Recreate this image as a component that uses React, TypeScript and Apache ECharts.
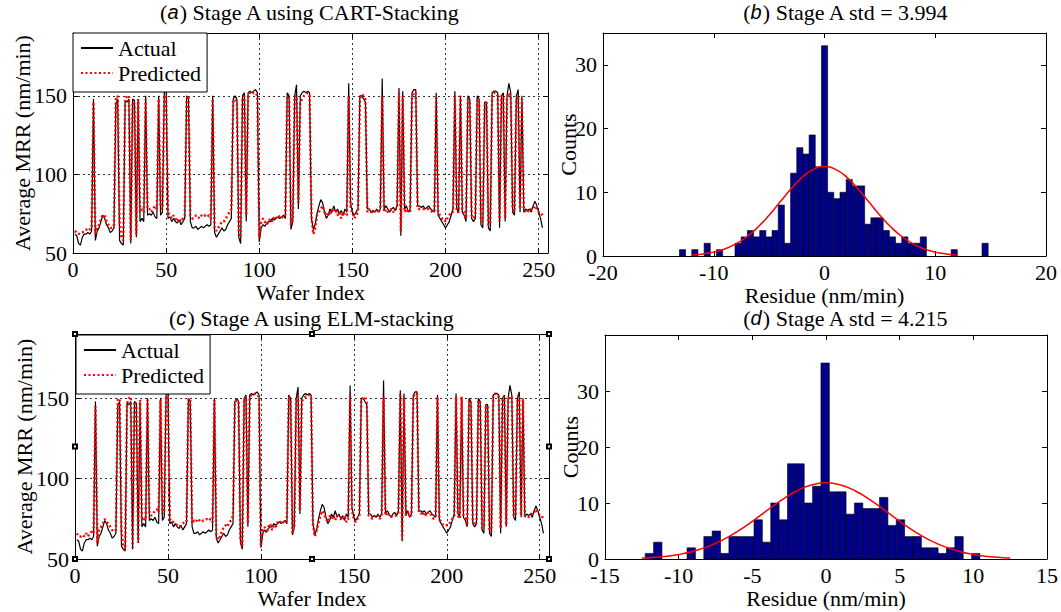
import React, { useEffect, useRef } from "react";
import * as echarts from "echarts";

// ---------- data ----------
const actual = [
  62, 61, 56, 55, 60, 62, 62, 63, 62, 64,
  148, 58, 64, 66, 70, 74, 72, 68, 66, 63,
  64, 66, 145, 148, 58, 56, 55, 147, 146, 148,
  56, 148, 147, 60, 148, 70, 72, 70, 150, 74,
  75, 74, 76, 73, 72, 150, 74, 76, 152, 155,
  72, 73, 70, 72, 70, 69, 71, 68, 70, 72,
  150, 148, 70, 66, 66, 67, 65, 66, 67, 66,
  67, 68, 67, 68, 150, 63, 60, 62, 64, 66,
  64, 65, 68, 70, 72, 148, 150, 148, 60, 56,
  150, 152, 70, 152, 153, 152, 153, 154, 152, 57,
  66, 68, 67, 69, 70, 70, 72, 71, 72, 73,
  72, 73, 74, 72, 152, 150, 65, 70, 150, 157,
  78, 150, 152, 153, 152, 153, 152, 72, 65, 68,
  75, 80, 84, 82, 76, 72, 74, 78, 76, 80,
  76, 78, 75, 77, 74, 78, 76, 158, 82, 76,
  74, 76, 78, 150, 150, 148, 146, 78, 78, 76,
  77, 76, 78, 76, 78, 161, 78, 80, 78, 76,
  78, 79, 77, 80, 155, 61, 153, 78, 80, 76,
  78, 152, 154, 154, 80, 80, 79, 80, 78, 79,
  80, 78, 77, 76, 152, 74, 72, 70, 68, 66,
  68, 70, 74, 78, 153, 78, 76, 150, 76, 74,
  70, 150, 148, 72, 70, 72, 150, 148, 68, 66,
  146, 146, 66, 64, 152, 153, 153, 152, 66, 150,
  152, 70, 150, 158, 152, 76, 74, 150, 154, 76,
  150, 76, 78, 77, 78, 76, 80, 83, 80, 76,
  72, 66,
];

const predictedA = [
  64, 63, 62, 63, 63, 64, 65, 64, 65, 66,
  146, 62, 66, 68, 72, 74, 74, 70, 68, 66,
  66, 68, 148, 150, 70, 60, 58, 148, 150, 150,
  58, 146, 145, 62, 148, 76, 78, 76, 148, 78,
  78, 76, 78, 80, 78, 148, 80, 78, 150, 150,
  76, 74, 72, 74, 72, 70, 72, 70, 72, 74,
  148, 150, 74, 72, 72, 74, 73, 72, 74, 73,
  74, 73, 74, 72, 148, 66, 64, 66, 68, 70,
  70, 72, 74, 76, 78, 146, 148, 146, 64, 60,
  148, 150, 74, 150, 152, 151, 152, 152, 150, 60,
  70, 72, 70, 68, 70, 72, 70, 73, 72, 74,
  73, 72, 74, 74, 150, 148, 68, 72, 150, 150,
  82, 146, 148, 150, 151, 152, 150, 74, 62, 66,
  74, 76, 78, 80, 76, 74, 76, 74, 78, 76,
  78, 74, 76, 72, 76, 74, 74, 150, 78, 76,
  72, 74, 76, 148, 151, 150, 148, 76, 78, 76,
  76, 77, 76, 76, 78, 150, 76, 78, 76, 77,
  78, 76, 78, 78, 152, 64, 150, 76, 78, 76,
  76, 150, 152, 152, 78, 78, 78, 78, 78, 78,
  78, 77, 76, 76, 150, 76, 74, 72, 72, 70,
  72, 74, 76, 76, 150, 76, 76, 150, 78, 76,
  72, 148, 146, 74, 72, 74, 148, 146, 70, 70,
  144, 146, 68, 68, 150, 152, 152, 150, 70, 150,
  150, 72, 148, 152, 150, 78, 76, 148, 150, 78,
  148, 78, 76, 77, 76, 78, 78, 80, 78, 76,
  76, 74,
];

const predictedC = [
  66, 64, 64, 65, 64, 66, 64, 66, 67, 66,
  145, 60, 68, 70, 72, 75, 73, 72, 70, 68,
  67, 68, 149, 150, 68, 58, 56, 147, 150, 151,
  57, 148, 146, 60, 149, 74, 76, 74, 149, 78,
  77, 78, 80, 81, 79, 149, 78, 80, 151, 151,
  75, 73, 73, 72, 71, 70, 71, 72, 73, 73,
  149, 150, 72, 74, 73, 75, 74, 73, 74, 74,
  75, 74, 75, 73, 149, 65, 62, 64, 67, 70,
  71, 70, 73, 74, 77, 147, 149, 147, 62, 58,
  149, 151, 72, 151, 152, 152, 153, 152, 151, 58,
  68, 70, 66, 70, 72, 68, 71, 70, 73, 72,
  74, 73, 72, 75, 151, 149, 66, 71, 151, 151,
  80, 148, 150, 151, 152, 152, 151, 72, 64, 68,
  72, 77, 80, 78, 75, 73, 77, 75, 77, 74,
  77, 76, 75, 74, 77, 73, 75, 151, 80, 75,
  73, 75, 77, 149, 150, 151, 147, 77, 76, 75,
  77, 76, 77, 75, 77, 151, 77, 79, 77, 76,
  77, 77, 77, 79, 153, 62, 151, 77, 79, 77,
  77, 151, 153, 153, 79, 79, 77, 79, 77, 79,
  79, 76, 75, 77, 151, 75, 73, 71, 71, 71,
  71, 73, 75, 77, 151, 77, 75, 151, 77, 75,
  71, 149, 147, 73, 71, 73, 149, 147, 69, 71,
  145, 145, 67, 67, 151, 153, 151, 151, 69, 151,
  151, 71, 149, 151, 151, 77, 77, 149, 151, 77,
  149, 77, 77, 76, 77, 79, 79, 81, 79, 77,
  77, 75,
];

// residual histogram (b): 50 bins
const countsB = [
  1, 0, 1, 0, 2, 0, 1, 0, 0, 2,
  3, 4, 3, 4, 3, 4, 8, 2, 13, 17,
  16, 19, 14, 33, 10, 9, 10, 12, 11, 11,
  5, 6, 6, 4, 3, 2, 3, 2, 2, 3,
  0, 0, 0, 0, 1, 0, 0, 0, 0, 2,
];
const binStartB = -13.1;
const binWidthB = 0.5576;

// residual histogram (d): 40 bins
const countsD = [
  1, 3, 0, 0, 0, 2, 0, 4, 5, 1,
  4, 4, 4, 7, 3, 10, 7, 17, 17, 10,
  13, 35, 12, 12, 8, 10, 9, 9, 11, 6,
  7, 4, 4, 2, 2, 1, 2, 4, 0, 1,
];
const binStartD = -12.27;
const binWidthD = 0.568;

// fitted normal curves
const fitXB = [-12, -11, -10, -9, -8, -7, -6, -5, -4, -3, -2, -1, 0, 1, 2, 3, 4, 5, 6, 7, 8, 9, 10, 11, 12];
const fitYB = [0.15, 0.32, 0.61, 1.11, 1.89, 3.02, 4.54, 6.41, 8.5, 10.58, 12.38, 13.6, 14.03, 13.6, 12.38, 10.58, 8.5, 6.41, 4.54, 3.02, 1.89, 1.11, 0.61, 0.32, 0.15];
const fitXD = [-12.5, -12, -11, -10, -9, -8, -7, -6, -5, -4, -3, -2, -1, 0, 1, 2, 3, 4, 5, 6, 7, 8, 9, 10, 11, 12, 12.5];
const fitYD = [0.17, 0.24, 0.45, 0.81, 1.39, 2.25, 3.42, 4.94, 6.73, 8.67, 10.56, 12.15, 13.22, 13.6, 13.22, 12.15, 10.56, 8.67, 6.73, 4.94, 3.42, 2.25, 1.39, 0.81, 0.45, 0.24, 0.17];

const xTicksTS = { min: 0, max: 255, interval: 50 };
const yTicksTS = { min: 50, max: 190, interval: 50 };

// ---------- layout ----------
const FONT = "'Liberation Serif', 'Times New Roman', serif";
const FS = 22;
const gA = { left: 73, top: 33, width: 475, height: 220 };
const gB = { left: 603, top: 33, width: 443, height: 223 };
const gC = { left: 75, top: 334, width: 474, height: 225 };
const gD = { left: 605, top: 335, width: 443, height: 224 };

const tick = { show: true, inside: true, length: 5, lineStyle: { color: "#000", width: 1 } };
const axLine = { show: true, onZero: false, lineStyle: { color: "#000", width: 1 } };
const lbl = { color: "#000", fontFamily: FONT, fontSize: FS };
const dotted = { show: true, lineStyle: { color: "#000", width: 0.8, type: [2, 3] } };

function xPair(gi: number, min: number, max: number, interval: number, grid: boolean, showMax: boolean, name: string) {
  const base: any = { type: "value", gridIndex: gi, min, max, interval, axisLine: axLine, axisTick: tick };
  return [
    {
      ...base, position: "bottom",
      splitLine: grid ? dotted : { show: false },
      axisLabel: { ...lbl, margin: 8, lineHeight: 16, showMaxLabel: showMax, showMinLabel: true },
      name, nameLocation: "middle", nameGap: 28, nameMoveOverlap: false,
      nameTextStyle: { ...lbl, lineHeight: 22, verticalAlign: "top" },
    },
    { ...base, position: "top", axisLabel: { show: false }, splitLine: { show: false } },
  ];
}
function yPair(gi: number, min: number, max: number, interval: number, grid: boolean, name: string, gap: number) {
  const base: any = { type: "value", gridIndex: gi, min, max, interval, axisLine: axLine, axisTick: tick };
  return [
    {
      ...base, position: "left",
      splitLine: grid ? dotted : { show: false },
      axisLabel: { ...lbl, margin: 6, lineHeight: 16, showMaxLabel: false, showMinLabel: true },
      name, nameLocation: "middle", nameGap: gap, nameMoveOverlap: false,
      nameTextStyle: { ...lbl },
    },
    { ...base, position: "right", axisLabel: { show: false }, splitLine: { show: false } },
  ];
}

function histSeries(counts: number[], start: number, width: number, axis: number) {
  const data: number[][] = [];
  counts.forEach((c, i) => {
    if (c > 0) data.push([start + i * width, start + (i + 1) * width, c]);
  });
  return {
    type: "custom",
    xAxisIndex: axis,
    yAxisIndex: axis,
    data,
    encode: { x: [0, 1], y: 2 },
    renderItem: (params: any, api: any) => {
      const p0 = api.coord([api.value(0), api.value(2)]);
      const p1 = api.coord([api.value(1), 0]);
      return {
        type: "rect",
        shape: { x: p0[0], y: p0[1], width: p1[0] - p0[0], height: p1[1] - p0[1] },
        style: { fill: "#000088", stroke: "#000", lineWidth: 0.6 },
      };
    },
    z: 2,
  };
}

function fitSeries(xs: number[], ys: number[], axis: number) {
  return {
    type: "line",
    xAxisIndex: axis,
    yAxisIndex: axis,
    data: xs.map((x, i) => [x, ys[i]]),
    smooth: true,
    symbol: "none",
    lineStyle: { color: "#ff0000", width: 1.5 },
    z: 3,
  };
}

function tsSeries(name: string, values: number[], axis: number, pred: boolean) {
  return {
    name,
    type: "line",
    xAxisIndex: axis,
    yAxisIndex: axis,
    data: values.map((v, i) => [i + 1, v]),
    symbol: "none",
    itemStyle: { color: pred ? "#ff0000" : "#000" },
    lineStyle: pred ? { color: "#ff0000", width: 2.4, type: [2, 2.5] } : { color: "#000", width: 1.2 },
    z: pred ? 3 : 2,
  };
}

function legendAt(left: number, top: number) {
  return {
    orient: "vertical",
    left, top,
    data: ["Actual", "Predicted"],
    itemWidth: 32,
    itemHeight: 12,
    itemGap: 3,
    padding: [4, 6, 8, 7],
    borderColor: "#000",
    borderWidth: 1,
    backgroundColor: "#fff",
    selectedMode: false,
    itemStyle: { color: "rgba(0,0,0,0)", borderWidth: 0, opacity: 0 },
    textStyle: { ...lbl },
  };
}

function titleText(x: number, y: number, letter: string, rest: string) {
  return {
    type: "text",
    x, y,
    style: {
      text: "({i|" + letter + "}) " + rest,
      align: "center",
      verticalAlign: "middle",
      fontFamily: FONT,
      fontSize: FS,
      fill: "#000",
      rich: { i: { fontFamily: "'Liberation Sans', Arial, sans-serif", fontStyle: "italic", fontSize: 20, fill: "#000" } },
    },
    z: 10,
  };
}

function handles(g: { left: number; top: number; width: number; height: number }) {
  const xs = [g.left, g.left + g.width / 2, g.left + g.width];
  const ys = [g.top, g.top + g.height / 2, g.top + g.height];
  const out: any[] = [];
  xs.forEach((x, i) =>
    ys.forEach((y, j) => {
      if (i === 1 && j === 1) return;
      out.push({ type: "rect", shape: { x: x - 3, y: y - 3, width: 6, height: 6 }, style: { fill: "#000" }, z: 20 });
      out.push({ type: "rect", shape: { x: x - 1, y: y - 1, width: 2, height: 2 }, style: { fill: "#fff" }, z: 21 });
    })
  );
  return out;
}

export default function App() {
  const ref = useRef<HTMLDivElement>(null);
  useEffect(() => {
    if (!ref.current) return;
    const chart = echarts.init(ref.current, undefined, { renderer: "svg" });
    const option: any = {
      animation: false,
      backgroundColor: "#fff",
      grid: [gA, gB, gC, gD].map((g) => ({ ...g, show: false })),
      xAxis: [
        ...xPair(0, xTicksTS.min, xTicksTS.max, xTicksTS.interval, true, false, "Wafer Index"),
        ...xPair(1, -20, 20, 10, false, true, "Residue (nm/min)"),
        ...xPair(2, xTicksTS.min, xTicksTS.max, xTicksTS.interval, true, false, "Wafer Index"),
        ...xPair(3, -15, 15, 5, false, true, "Residue (nm/min)"),
      ],
      yAxis: [
        ...yPair(0, yTicksTS.min, yTicksTS.max, yTicksTS.interval, true, "Average MRR (nm/min)", 40),
        ...yPair(1, 0, 35, 10, false, "Counts", 24),
        ...yPair(2, yTicksTS.min, yTicksTS.max, yTicksTS.interval, true, "Average MRR (nm/min)", 40),
        ...yPair(3, 0, 40, 10, false, "Counts", 24),
      ],
      legend: [legendAt(73, 33), legendAt(76, 335)],
      series: [
        tsSeries("Actual", actual, 0, false),
        tsSeries("Predicted", predictedA, 0, true),
        histSeries(countsB, binStartB, binWidthB, 2),
        fitSeries(fitXB, fitYB, 2),
        tsSeries("Actual", actual, 4, false),
        tsSeries("Predicted", predictedC, 4, true),
        histSeries(countsD, binStartD, binWidthD, 6),
        fitSeries(fitXD, fitYD, 6),
      ],
      graphic: [
        titleText(310, 12, "a", "Stage A using CART-Stacking"),
        titleText(846, 12, "b", "Stage A std = 3.994"),
        titleText(312, 318, "c", "Stage A using ELM-stacking"),
        titleText(846, 318, "d", "Stage A std = 4.215"),
        ...handles(gC),
      ],
    };
    chart.setOption(option);
    return () => chart.dispose();
  }, []);
  return <div ref={ref} style={{ position: "fixed", left: 0, top: 0, width: 1061, height: 612 }} />;
}
